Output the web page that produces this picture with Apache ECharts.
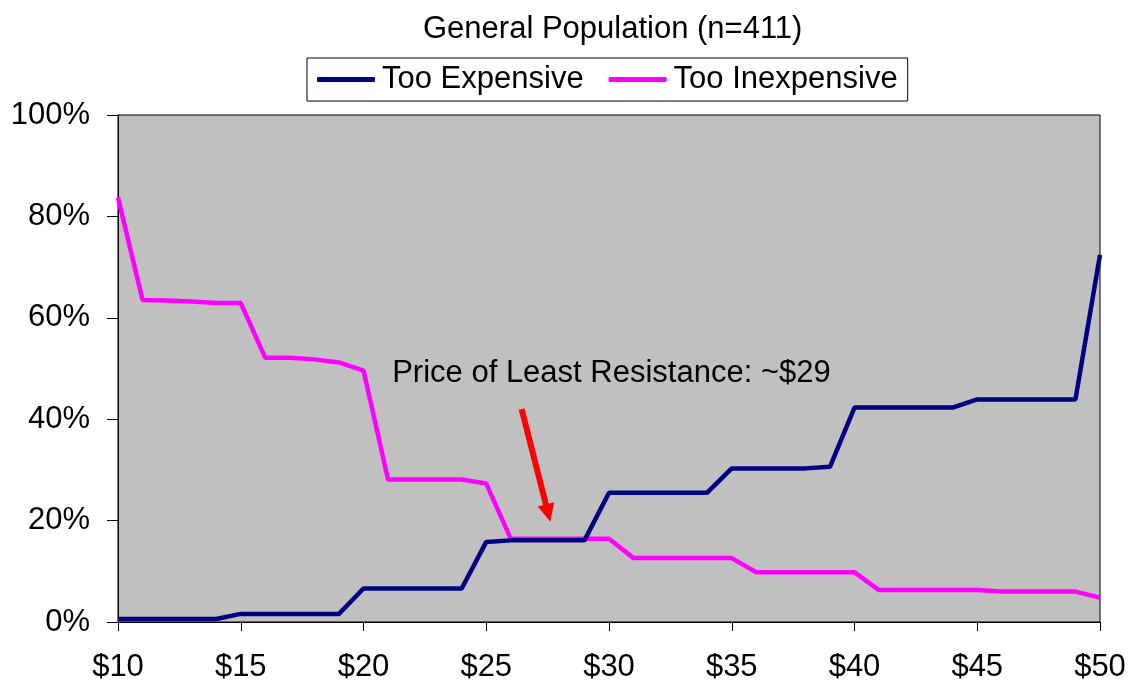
<!DOCTYPE html>
<html>
<head>
<meta charset="utf-8">
<title>General Population (n=411)</title>
<script src="https://cdn.jsdelivr.net/npm/echarts@6/dist/echarts.min.js"></script>
<style>
  html, body { margin: 0; padding: 0; background: #fff; }
  #chart { width: 1132px; height: 687px; }
</style>
</head>
<body>
<div id="chart"></div>
<script>
// prices $10..$50
const prices = [];
for (let p = 10; p <= 50; p++) prices.push(p);

const tooExpensive = [
  0.6, 0.6, 0.6, 0.6, 0.6, 1.6, 1.6, 1.6, 1.6, 1.6,
  6.6, 6.6, 6.6, 6.6, 6.6, 15.8, 16.1, 16.1, 16.1, 16.1,
  25.5, 25.5, 25.5, 25.5, 25.5, 30.3, 30.3, 30.3, 30.3, 30.6,
  42.3, 42.3, 42.3, 42.3, 42.3, 43.9, 43.9, 43.9, 43.9, 43.9,
  72.4
];

const tooInexpensive = [
  83.7, 63.5, 63.4, 63.2, 62.9, 62.9, 52.1, 52.1, 51.8, 51.2,
  49.6, 28.1, 28.1, 28.1, 28.1, 27.3, 16.4, 16.4, 16.4, 16.4,
  16.4, 12.6, 12.6, 12.6, 12.6, 12.6, 9.8, 9.8, 9.8, 9.8,
  9.8, 6.3, 6.3, 6.3, 6.3, 6.3, 6.0, 6.0, 6.0, 6.0,
  4.8
];

const annotationText = 'Price of Least Resistance: ~$29';
const arrowFrom = [26.44, 42.0];
const arrowTo = [27.52, 21.5];
const textAt = [30.1, 49.1];

const font = "'Liberation Sans', Arial, sans-serif";

function pairs(vals) {
  return prices.map((p, i) => [p, vals[i]]);
}

let myChart = echarts.init(document.getElementById('chart'));

myChart.setOption({
  animation: false,
  backgroundColor: '#fff',
  textStyle: { fontFamily: font },
  title: {
    text: 'General Population (n=411)',
    left: 423,
    top: 14,
    padding: 0,
    textStyle: { fontFamily: font, fontSize: 31, fontWeight: 'normal', color: '#000' }
  },
  legend: {
    top: 58,
    left: 307,
    data: ['Too Expensive', 'Too Inexpensive'],
    icon: 'roundRect',
    itemWidth: 58,
    itemHeight: 5,
    itemGap: 25,
    padding: [6, 10, 6, 10],
    borderColor: '#000',
    borderWidth: 1,
    textStyle: { fontFamily: font, fontSize: 31, lineHeight: 31, color: '#000', padding: [0, 0, 0, 2] }
  },
  grid: {
    left: 118,
    right: 32,
    top: 115,
    bottom: 65,
    show: true,
    backgroundColor: '#C0C0C0',
    borderColor: '#000',
    borderWidth: 1
  },
  xAxis: {
    type: 'value',
    min: 10,
    max: 50,
    interval: 5,
    axisLine: { show: true, onZero: false, lineStyle: { color: '#000', width: 1 } },
    axisTick: { show: true, length: 9, lineStyle: { color: '#000' } },
    splitLine: { show: false },
    axisLabel: {
      margin: 30,
      fontFamily: font,
      fontSize: 31,
      color: '#000',
      formatter: v => '$' + v
    }
  },
  yAxis: {
    type: 'value',
    min: 0,
    max: 100,
    interval: 20,
    axisLine: { show: true, lineStyle: { color: '#000', width: 1 } },
    axisTick: { show: true, length: 11, lineStyle: { color: '#000' } },
    splitLine: { show: false },
    axisLabel: {
      margin: 28,
      fontFamily: font,
      fontSize: 31,
      color: '#000',
      formatter: v => v + '%'
    }
  },
  series: [
    {
      name: 'Too Expensive',
      type: 'line',
      data: pairs(tooExpensive),
      symbol: 'none',
      color: '#000080',
      lineStyle: { width: 4.5, color: '#000080' },
      z: 3
    },
    {
      name: 'Too Inexpensive',
      type: 'line',
      data: pairs(tooInexpensive),
      symbol: 'none',
      color: '#FF00FF',
      lineStyle: { width: 4.5, color: '#FF00FF' },
      z: 2,
      markLine: {
        silent: true,
        symbol: ['none', 'triangle'],
        symbolSize: [17, 18],
        lineStyle: { color: '#FF0000', width: 6, type: 'solid' },
        itemStyle: { color: '#FF0000' },
        label: { show: false },
        data: [[{ coord: arrowFrom }, { coord: arrowTo }]]
      },
      markPoint: {
        silent: true,
        symbol: 'circle',
        symbolSize: 0,
        label: {
          show: true,
          position: 'inside',
          formatter: annotationText,
          fontFamily: font,
          fontSize: 31,
          color: '#000'
        },
        data: [{ coord: textAt }]
      }
    }
  ]
});
</script>
</body>
</html>
